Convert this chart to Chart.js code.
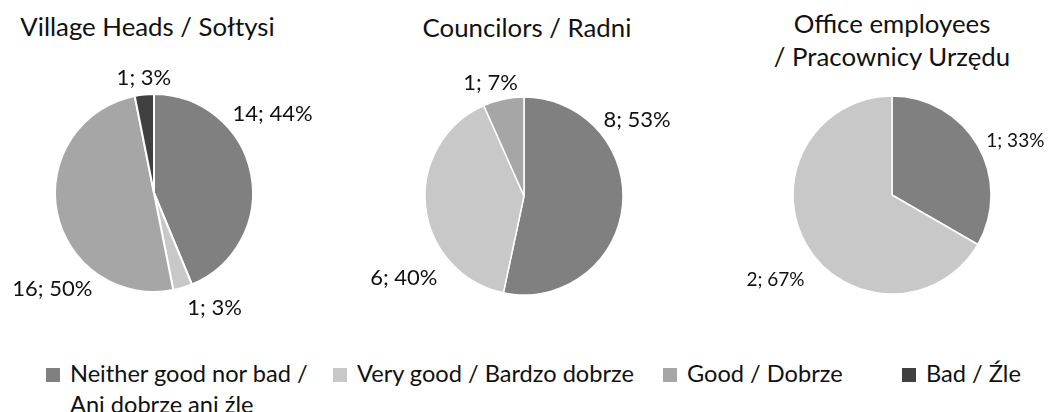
<!DOCTYPE html>
<html lang="en">
<head>
    <meta charset="UTF-8">
    <title>Opinions</title>
    <script src="https://cdn.jsdelivr.net/npm/chart.js"></script>
    <style>
        html, body { margin: 0; padding: 0; background: #ffffff; }
        body { width: 1051px; height: 412px; position: relative; overflow: hidden; font-family: Lato, "Open Sans", sans-serif; color: #111; }
        .titulo { position: absolute; font-size: 25.8px; line-height: 33px; text-align: center; white-space: nowrap; }
        .grafico { position: absolute; width: 320px; height: 320px; }
        #legenda { position: absolute; left: 46px; top: 358px; display: flex; font-size: 23.6px; line-height: 31px; }
        .item { display: flex; align-items: flex-start; }
        .quadrado { width: 14px; height: 14px; margin-top: 10px; margin-right: 10px; flex: none; }
    </style>
</head>
<body>

    <div class="titulo" style="left:0px; width:295px; top:10px;">Village Heads / Sołtysi</div>
    <div class="titulo" style="left:377px; width:300px; top:11px;">Councilors / Radni</div>
    <div class="titulo" style="left:742px; width:300px; top:7px;">Office employees<br>/ Pracownicy Urzędu</div>

    <div class="grafico" style="left:-6px; top:33px;"><canvas id="c1"></canvas></div>
    <div class="grafico" style="left:363.5px; top:35.5px;"><canvas id="c2"></canvas></div>
    <div class="grafico" style="left:731.5px; top:34.5px;"><canvas id="c3"></canvas></div>

    <div id="legenda"></div>

<script>
    // categorias (mesma ordem nos tres graficos)
    const categorias = [
        "Neither good nor bad / Ani dobrze ani źle",
        "Very good / Bardzo dobrze",
        "Good / Dobrze",
        "Bad / Źle"
    ];

    // valores
    const soltysi = [14, 1, 16, 1];
    const radni = [8, 6, 1, 0];
    const urzednicy = [1, 2, 0, 0];

    const cores = ["#808080", "#c8c8c8", "#a6a6a6", "#404040"];

    // onde cada rotulo fica (angulo a partir do topo, distancia do centro)
    const rotulos1 = { angulos: [56, 152, 227, 355], dist: [143, 129, 139, 116], tamanho: 22 };
    const rotulos2 = { angulos: [55.6, 236, 343.7, 0], dist: [137, 145, 119, 0], tamanho: 22 };
    const rotulos3 = { angulos: [66, 234, 0, 0], dist: [135, 144, 0, 0], tamanho: 19 };

    const pluginRotulos = {
        id: "rotulos",
        afterDatasetsDraw(chart, args, opts) {
            const ctx = chart.ctx;
            const meta = chart.getDatasetMeta(0);
            const valores = chart.data.datasets[0].data;
            const total = valores.reduce((a, b) => a + b, 0);
            ctx.save();
            ctx.font = opts.tamanho + "px Lato, 'Open Sans', sans-serif";
            ctx.fillStyle = "#111";
            ctx.textAlign = "center";
            ctx.textBaseline = "alphabetic";
            meta.data.forEach(function (arco, i) {
                if (!valores[i]) return;
                const ang = opts.angulos[i] * Math.PI / 180;
                const x = arco.x + opts.dist[i] * Math.sin(ang);
                const y = arco.y - opts.dist[i] * Math.cos(ang) + opts.tamanho * 0.36;
                const pct = Math.round(valores[i] / total * 100);
                ctx.fillText(valores[i] + "; " + pct + "%", x, y);
            });
            ctx.restore();
        }
    };

    function criarPizza(id, valores, rotulos, borda) {
        new Chart(document.getElementById(id), {
            type: "pie",
            data: {
                labels: categorias,
                datasets: [{
                    data: valores,
                    backgroundColor: cores,
                    borderColor: "#ffffff",
                    borderWidth: borda
                }]
            },
            options: {
                responsive: true,
                maintainAspectRatio: false,
                animation: false,
                radius: 99,
                layout: { padding: 0 },
                plugins: {
                    legend: { display: false },
                    title: { display: false },
                    tooltip: { enabled: false },
                    rotulos: rotulos
                }
            },
            plugins: [pluginRotulos]
        });
    }

    criarPizza("c1", soltysi, rotulos1, 2);
    criarPizza("c2", radni, rotulos2, 1.5);
    criarPizza("c3", urzednicy, rotulos3, 1.5);

    // legenda compartilhada
    const largurasLegenda = [287, 330, 239, 130];
    const legenda = document.getElementById("legenda");
    categorias.forEach(function (nome, i) {
        const item = document.createElement("div");
        item.className = "item";
        item.style.width = largurasLegenda[i] + "px";
        const q = document.createElement("span");
        q.className = "quadrado";
        q.style.background = cores[i];
        const t = document.createElement("span");
        if (i === 0) {
            t.innerHTML = "Neither good nor bad /<br>Ani dobrze ani źle";
        } else {
            t.textContent = nome;
        }
        item.appendChild(q);
        item.appendChild(t);
        legenda.appendChild(item);
    });
</script>
</body>
</html>
